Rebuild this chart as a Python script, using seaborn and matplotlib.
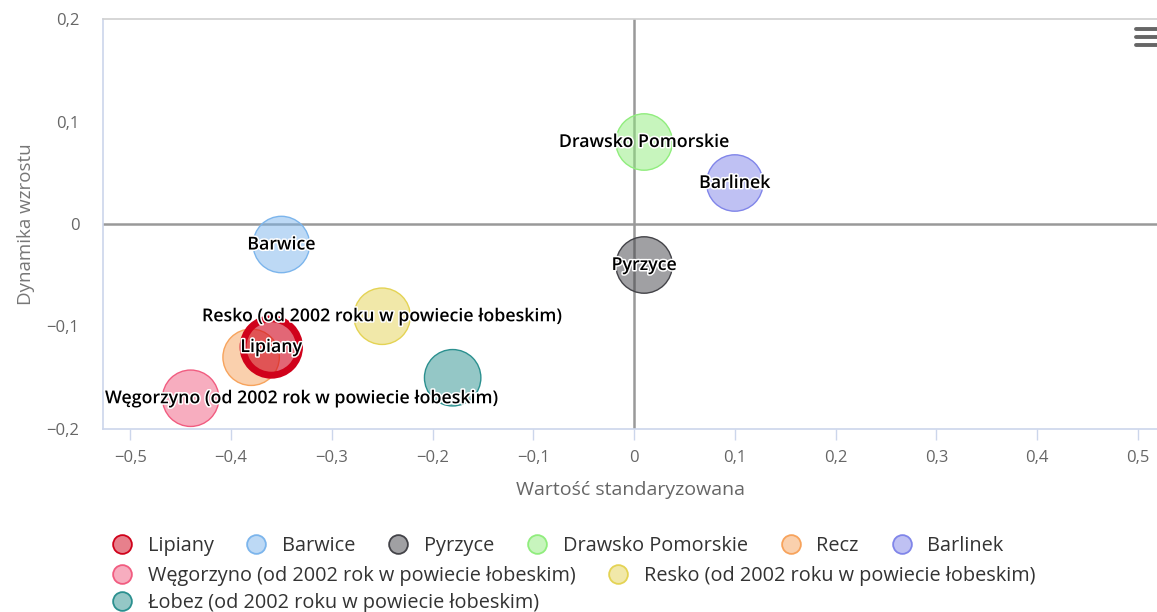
import numpy as np
import pandas as pd
import matplotlib
matplotlib.use("Agg")
import matplotlib.pyplot as plt
import seaborn as sns
from matplotlib.lines import Line2D
from matplotlib.colors import to_rgba
import matplotlib.patheffects as pe
from matplotlib.ticker import FuncFormatter

# ---- data ----
names = ["Lipiany", "Barwice", "Pyrzyce", "Drawsko Pomorskie", "Recz", "Barlinek",
         "Węgorzyno (od 2002 rok w powiecie łobeskim)",
         "Resko (od 2002 roku w powiecie łobeskim)",
         "Łobez (od 2002 roku w powiecie łobeskim)"]
x_vals = [-0.36, -0.35, 0.01, 0.01, -0.38, 0.10, -0.44, -0.25, -0.18]
y_vals = [-0.12, -0.02, -0.04, 0.08, -0.13, 0.04, -0.17, -0.09, -0.15]
colors = ["#d0021b", "#7cb5ec", "#434348", "#90ed7d", "#f7a35c", "#8085e9",
          "#f15c80", "#e4d354", "#2b908f"]
show_label = [True, True, True, True, False, True, True, True, False]
x_ticks = [-0.5, -0.4, -0.3, -0.2, -0.1, 0, 0.1, 0.2, 0.3, 0.4, 0.5]
y_ticks = [-0.2, -0.1, 0, 0.1, 0.2]

df = pd.DataFrame({"name": names, "x": x_vals, "y": y_vals})
palette = dict(zip(names, colors))

sns.set_theme(style="white")
FONT = "Open Sans"
plt.rcParams["font.family"] = [FONT, "DejaVu Sans"]

W, H = 1157, 612
fig = plt.figure(figsize=(W / 100, H / 100), dpi=100)
ax = fig.add_axes([103 / W, 1 - 429 / H, 1 - 103 / W, 410 / H])

# draw order: hovered Lipiany on top
plot_df = pd.concat([df.iloc[1:], df.iloc[:1]])
sns.scatterplot(data=plot_df, x="x", y="y", hue="name", palette=palette,
                s=1650, legend=False, ax=ax, zorder=3)
coll = ax.collections[0]
cols = [palette[n] for n in plot_df["name"]]
face = [to_rgba(c, 0.5) for c in cols]
edge = [to_rgba(c, 1.0) for c in cols]
lw = [5.0 if n == "Lipiany" else 1.0 for n in plot_df["name"]]
face[-1] = to_rgba(colors[0], 0.6)
coll.set_facecolors(face)
coll.set_edgecolors(edge)
coll.set_linewidths(lw)

ax.set_xlim(-0.527, 0.519)
ax.set_ylim(-0.2, 0.2)
ax.set_xticks(x_ticks)
ax.set_yticks(y_ticks)

def fmt(v, pos):
    if abs(v) < 1e-9:
        return "0"
    return f"{v:.1f}".replace(".", ",").replace("-", "\u2212")

ax.xaxis.set_major_formatter(FuncFormatter(fmt))
ax.yaxis.set_major_formatter(FuncFormatter(fmt))

ax.axhline(0, color="#999999", lw=1.8, zorder=1)
ax.axvline(0, color="#999999", lw=1.8, zorder=1)

for side in ["left", "bottom"]:
    ax.spines[side].set_color("#ccd6eb")
    ax.spines[side].set_linewidth(1.2)
ax.spines["top"].set_color("#d0d0d0")
ax.spines["top"].set_linewidth(1.2)
ax.spines["right"].set_visible(False)

ax.tick_params(axis="x", bottom=True, length=8, width=1, color="#ccd6eb",
               labelsize=12, labelcolor="#666666", pad=7)
ax.tick_params(axis="y", left=False, length=0, labelsize=12, labelcolor="#666666", pad=17)

ax.set_xlabel("Wartość standaryzowana", fontsize=14, color="#666666", labelpad=11)
ax.set_ylabel("Dynamika wzrostu", fontsize=13.5, color="#777777", labelpad=8)

# data labels
texts = []
for n, xv, yv, sl in zip(names, x_vals, y_vals, show_label):
    if not sl:
        continue
    t = ax.text(xv, yv, n, ha="center", va="center", fontsize=12.8, color="black",
                fontweight="semibold", zorder=10,
                path_effects=[pe.withStroke(linewidth=2.2, foreground="white")])
    texts.append(t)

fig.canvas.draw()
r = fig.canvas.get_renderer()
axbb = ax.get_window_extent(r)
inv = ax.transData.inverted()
for t in texts:
    bb = t.get_window_extent(r)
    if bb.x0 < axbb.x0 + 2:
        dx = axbb.x0 + 2 - bb.x0
        x0, y0 = t.get_position()
        disp = ax.transData.transform((x0, y0))
        t.set_position(inv.transform((disp[0] + dx, disp[1])))

# legend
def handle(c):
    return Line2D([], [], marker="o", linestyle="", markersize=13.5,
                  markerfacecolor=to_rgba(c, 0.5), markeredgecolor=c,
                  markeredgewidth=1.3)

handles = [handle(c) for c in colors]
rows = [(0, 6, 546), (6, 8, 576), (8, 9, 603)]
for a, b, yy in rows:
    leg = fig.legend(handles[a:b], names[a:b], ncol=b - a, loc="center left",
                     bbox_to_anchor=(112 / W, 1 - yy / H), frameon=False,
                     fontsize=14.3, handlelength=1.0, handletextpad=0.8,
                     columnspacing=1.65, borderpad=0, borderaxespad=0)
    for tx in leg.get_texts():
        tx.set_color("#333333")

# export menu icon
for yy in [29, 37, 45]:
    fig.add_artist(Line2D([1136 / W, 1157 / W], [1 - yy / H, 1 - yy / H],
                          transform=fig.transFigure, color="#666666", lw=2.8))

fig.savefig("out.png", dpi=100)
